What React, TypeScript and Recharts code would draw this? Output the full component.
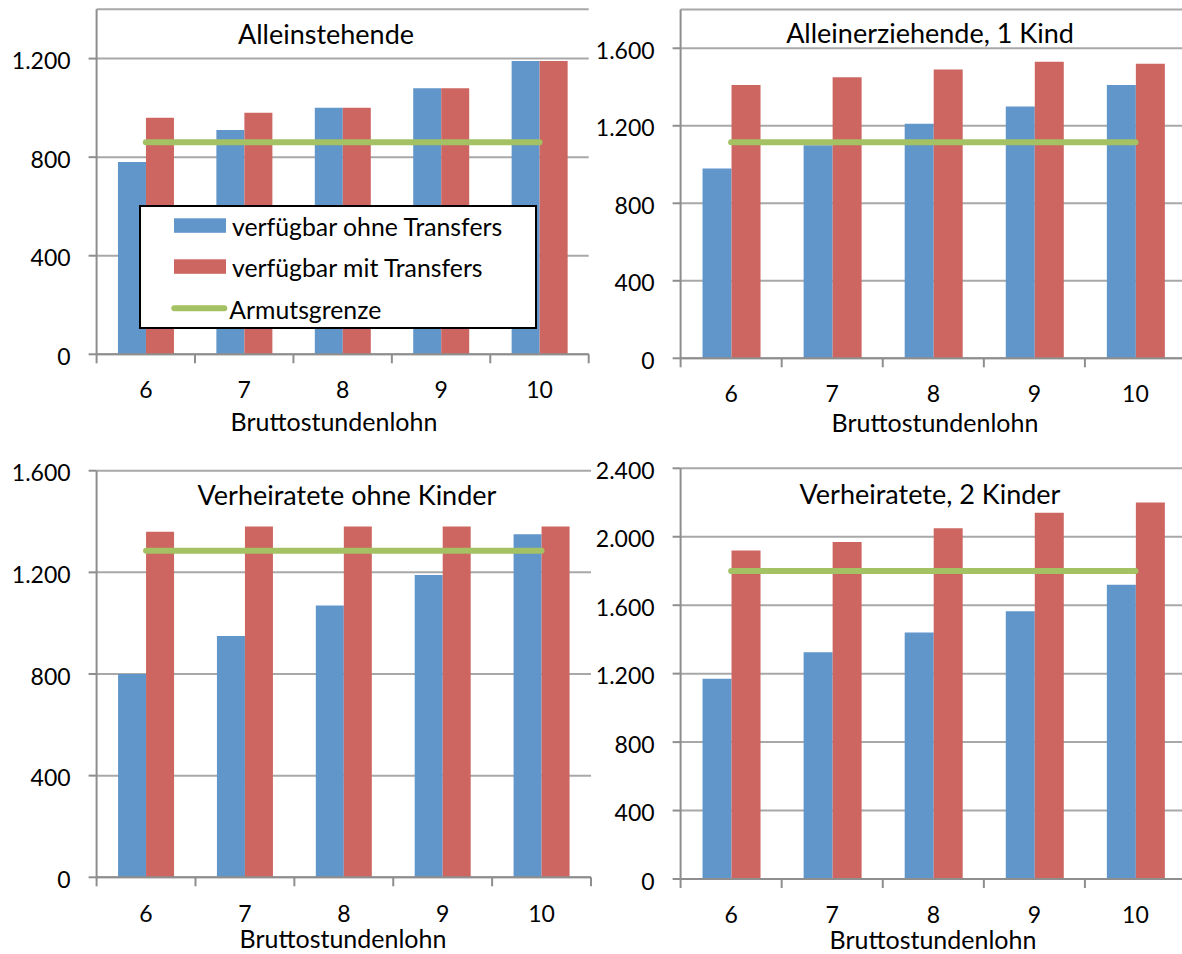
import React from 'react';
import { ComposedChart, Bar, Line, XAxis, YAxis, CartesianGrid, Legend } from 'recharts';

// Bruttostundenlohn (Euro pro Stunde)
const wageLevels = ['6', '7', '8', '9', '10'];

// Alleinstehende
const singleWithoutTransfers = [780, 910, 1000, 1080, 1190];
const singleWithTransfers = [960, 980, 1000, 1080, 1190];
const singlePovertyLine = 860;
const singleTicks = [0, 400, 800, 1200];

// Alleinerziehende, 1 Kind
const loneParentWithoutTransfers = [980, 1100, 1210, 1300, 1410];
const loneParentWithTransfers = [1410, 1450, 1490, 1530, 1520];
const loneParentPovertyLine = 1115;
const loneParentTicks = [0, 400, 800, 1200, 1600];

// Verheiratete ohne Kinder
const coupleWithoutTransfers = [800, 950, 1070, 1190, 1350];
const coupleWithTransfers = [1360, 1380, 1380, 1380, 1380];
const couplePovertyLine = 1285;
const coupleTicks = [0, 400, 800, 1200, 1600];

// Verheiratete, 2 Kinder
const familyWithoutTransfers = [1170, 1325, 1440, 1565, 1720];
const familyWithTransfers = [1920, 1970, 2050, 2140, 2200];
const familyPovertyLine = 1800;
const familyTicks = [0, 400, 800, 1200, 1600, 2000, 2400];

const seriesWithoutLabel = 'verfügbar ohne Transfers';
const seriesWithLabel = 'verfügbar mit Transfers';
const povertyLabel = 'Armutsgrenze';
const xAxisTitle = 'Bruttostundenlohn';

const BLUE = '#6196CA';
const RED = '#CD6660';
const GREEN = '#A4C164';
const GRID = '#A8A8A8';
const AXIS = '#8E8E8E';
const FONT = 'Lato, "Open Sans", sans-serif';
const TICK_FONT = 23;
const TITLE_FONT = 27;
const AXIS_TITLE_FONT = 25;
const LEGEND_FONT = 24.8;

const formatThousands = (v: number) => String(v).replace(/\B(?=(\d{3})+(?!\d))/g, '.');

const buildRows = (without: number[], withT: number[], poverty: number) =>
  wageLevels.map((wage, i) => ({ wage, without: without[i], with: withT[i], poverty }));

type Frame = {
  left: number; top: number; width: number; height: number;
  plotLeft: number; plotTop: number; plotRight: number; plotBottom: number;
  labelDrop: number;
  titleX: number; titleY: number; axisTitleX: number; axisTitleY: number;
};

type Panel = {
  title: string;
  rows: ReturnType<typeof buildRows>;
  ticks: number[];
  yMax: number;
  frame: Frame;
  legend?: boolean;
};

const panels: Panel[] = [
  {
    title: 'Alleinstehende',
    rows: buildRows(singleWithoutTransfers, singleWithTransfers, singlePovertyLine),
    ticks: singleTicks,
    yMax: 1400,
    legend: true,
    frame: {
      left: 0, top: 0, width: 595, height: 450,
      plotLeft: 96.6, plotTop: 9.3, plotRight: 588.7, plotBottom: 354.3,
      labelDrop: 44, titleX: 326, titleY: 44.3, axisTitleX: 334, axisTitleY: 430.7,
    },
  },
  {
    title: 'Alleinerziehende, 1 Kind',
    rows: buildRows(loneParentWithoutTransfers, loneParentWithTransfers, loneParentPovertyLine),
    ticks: loneParentTicks,
    yMax: 1800,
    frame: {
      left: 595, top: 0, width: 595, height: 450,
      plotLeft: 680.6, plotTop: 9.5, plotRight: 1186, plotBottom: 358.3,
      labelDrop: 43.4, titleX: 930, titleY: 43.3, axisTitleX: 935, axisTitleY: 431.7,
    },
  },
  {
    title: 'Verheiratete ohne Kinder',
    rows: buildRows(coupleWithoutTransfers, coupleWithTransfers, couplePovertyLine),
    ticks: coupleTicks,
    yMax: 1600,
    frame: {
      left: 0, top: 455, width: 595, height: 499,
      plotLeft: 96.6, plotTop: 470.7, plotRight: 591, plotBottom: 877.3,
      labelDrop: 44.2, titleX: 347, titleY: 505, axisTitleX: 343, axisTitleY: 948,
    },
  },
  {
    title: 'Verheiratete, 2 Kinder',
    rows: buildRows(familyWithoutTransfers, familyWithTransfers, familyPovertyLine),
    ticks: familyTicks,
    yMax: 2400,
    frame: {
      left: 595, top: 455, width: 595, height: 499,
      plotLeft: 680.6, plotTop: 468.3, plotRight: 1186, plotBottom: 879,
      labelDrop: 43.5, titleX: 930, titleY: 504, axisTitleX: 933, axisTitleY: 949,
    },
  },
];

// Category tick: label centred in the band, tick marks on the band edges
const makeCategoryTick = (band: number, labelDrop: number, lastIndex: number) => (props: any) => {
  const { x, y, payload, index } = props;
  const edges = [x - band / 2];
  if (index === lastIndex) edges.push(x + band / 2);
  return (
    <g>
      {edges.map((ex, i) => (
        <line key={i} x1={ex} x2={ex} y1={y} y2={y + 9} stroke={AXIS} strokeWidth={2} />
      ))}
      <text x={x} y={y + labelDrop} textAnchor="middle" fill="#000" fontSize={TICK_FONT} fontFamily={FONT}>
        {payload.value}
      </text>
    </g>
  );
};

const renderValueTick = (props: any) => (
  <text x={props.x} y={props.y + 10.5} textAnchor="end" fill="#000" fontSize={TICK_FONT} fontFamily={FONT}>
    {formatThousands(props.payload.value)}
  </text>
);

const legendOrder = ['without', 'with', 'poverty'];

const renderLegend = (props: any) => {
  const payload: any[] = props.payload || [];
  const items = legendOrder.map((key) => payload.find((p) => p.dataKey === key)).filter(Boolean);
  return (
    <svg width={398} height={124} style={{ display: 'block' }}>
      <rect x={1} y={1} width={396} height={122} fill="#fff" stroke="#000" strokeWidth={2} />
      {items.map((item: any, i: number) => {
        const rowTop = 13.3 + i * 41;
        const isLine = item.dataKey === 'poverty';
        return (
          <g key={item.dataKey}>
            {isLine ? (
              <line x1={35.3} x2={85.3} y1={103.3} y2={103.3} stroke={item.color} strokeWidth={6} strokeLinecap="round" />
            ) : (
              <rect x={35} y={rowTop} width={52} height={14.5} fill={item.color} />
            )}
            <text
              x={isLine ? 90.3 : 93}
              y={isLine ? 114 : rowTop + 17.4}
              fill="#000"
              fontSize={LEGEND_FONT}
              fontFamily={FONT}
            >
              {item.value}
            </text>
          </g>
        );
      })}
    </svg>
  );
};

function PanelChart({ panel }: { panel: Panel }) {
  const f = panel.frame;
  const band = (f.plotRight - f.plotLeft) / wageLevels.length;
  return (
    <div style={{ position: 'absolute', left: f.left, top: f.top }}>
      <ComposedChart
        width={f.width}
        height={f.height}
        data={panel.rows}
        margin={{ top: f.plotTop - f.top, right: f.left + f.width - f.plotRight, bottom: 0, left: 0 }}
        barCategoryGap="21.7%"
        barGap={0}
      >
        <CartesianGrid vertical={false} stroke={GRID} strokeWidth={2} />
        <XAxis
          dataKey="wage"
          type="category"
          height={f.top + f.height - f.plotBottom}
          interval={0}
          tickLine={false}
          tickSize={0}
          tickMargin={0}
          axisLine={{ stroke: AXIS, strokeWidth: 2 }}
          tick={makeCategoryTick(band, f.labelDrop, wageLevels.length - 1)}
        />
        <YAxis
          type="number"
          width={f.plotLeft - f.left}
          domain={[0, panel.yMax]}
          ticks={panel.ticks}
          interval={0}
          tickSize={8}
          tickMargin={18}
          tickLine={{ stroke: AXIS, strokeWidth: 2 }}
          axisLine={{ stroke: AXIS, strokeWidth: 2 }}
          tick={renderValueTick}
        />
        <Bar dataKey="without" name={seriesWithoutLabel} fill={BLUE} isAnimationActive={false} />
        <Bar dataKey="with" name={seriesWithLabel} fill={RED} isAnimationActive={false} />
        <Line
          dataKey="poverty"
          name={povertyLabel}
          type="linear"
          stroke={GREEN}
          strokeWidth={6}
          strokeLinecap="round"
          dot={false}
          activeDot={false}
          legendType="line"
          isAnimationActive={false}
        />
        {panel.legend && (
          <Legend
            layout="vertical"
            align="center"
            verticalAlign="middle"
            width={398}
            height={124}
            wrapperStyle={{ left: 139 - f.left, top: 205 - f.top, width: 398, height: 124 }}
            content={renderLegend}
          />
        )}
      </ComposedChart>
    </div>
  );
}

export default function App() {
  return (
    <div
      style={{
        position: 'absolute',
        left: 0,
        top: 0,
        width: 1182,
        height: 954,
        overflow: 'hidden',
        background: '#fff',
        fontFamily: FONT,
      }}
    >
      {panels.map((p) => (
        <PanelChart key={p.title} panel={p} />
      ))}
      <svg
        width={1182}
        height={954}
        style={{ position: 'absolute', left: 0, top: 0, pointerEvents: 'none' }}
      >
        {panels.map((p) => (
          <g key={p.title}>
            <text x={p.frame.titleX} y={p.frame.titleY} textAnchor="middle" fill="#000" fontSize={TITLE_FONT} fontFamily={FONT}>
              {p.title}
            </text>
            <text x={p.frame.axisTitleX} y={p.frame.axisTitleY} textAnchor="middle" fill="#000" fontSize={AXIS_TITLE_FONT} fontFamily={FONT}>
              {xAxisTitle}
            </text>
          </g>
        ))}
      </svg>
    </div>
  );
}
